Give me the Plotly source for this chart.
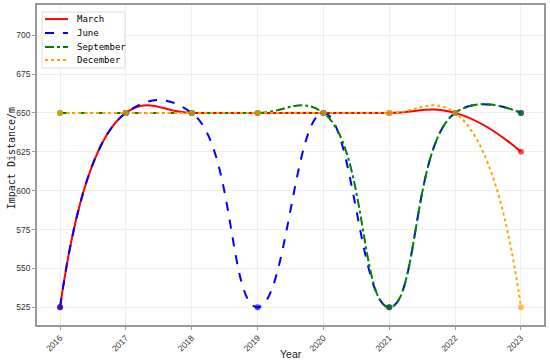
import plotly.graph_objects as go

years = [2016, 2017, 2018, 2019, 2020, 2021, 2022, 2023]
march = [525, 650, 650, 650, 650, 650, 650, 625]
june = [525, 650, 650, 525, 650, 525, 650, 650]
september = [650, 650, 650, 650, 650, 525, 650, 650]
december = [650, 650, 650, 650, 650, 650, 650, 525]

series = [
    ("March", march, "red", "solid"),
    ("June", june, "blue", "dash"),
    ("September", september, "green", "dashdot"),
    ("December", december, "orange", "dot"),
]

fig = go.Figure()
for name, vals, color, dash in series:
    fig.add_trace(go.Scatter(
        x=years, y=vals, name=name, mode="lines", showlegend=False,
        line=dict(color=color, width=2, dash=dash, shape="spline", smoothing=1.3),
    ))
for name, vals, color, dash in series:
    fig.add_trace(go.Scatter(
        x=years, y=vals, mode="markers", showlegend=False,
        marker=dict(color=color, size=6, opacity=0.7),
    ))

mono = "DejaVu Sans Mono"

# custom compact legend (paper coordinates)
shapes = [dict(type="rect", xref="paper", yref="paper", x0=0.0099, x1=0.1736,
               y0=0.803, y1=0.978, line=dict(color="#dddddd", width=1),
               fillcolor="rgba(255,255,255,0.9)", layer="above")]
annotations = []
row_y = [0.956, 0.9125, 0.869, 0.828]
for (name, vals, color, dash), ry in zip(series, row_y):
    shapes.append(dict(type="line", xref="paper", yref="paper", x0=0.0158, x1=0.0611,
                       y0=ry, y1=ry, line=dict(color=color, width=2, dash=dash), layer="above"))
    annotations.append(dict(text=name, xref="paper", yref="paper", x=0.075, y=ry,
                            xanchor="left", yanchor="middle", showarrow=False,
                            font=dict(family=mono, size=9, color="black")))

annotations.append(dict(text="Year", xref="paper", yref="paper", x=0.5, y=-0.09,
                        xanchor="center", yanchor="middle", showarrow=False,
                        font=dict(family="Liberation Sans", size=10.5, color="#222")))
annotations.append(dict(text="Impact Distance/m", xref="paper", yref="paper", x=-0.05, y=0.52,
                        xanchor="center", yanchor="middle", showarrow=False, textangle=-90,
                        font=dict(family=mono, size=10, color="#222")))

fig.update_layout(
    width=550, height=363,
    margin=dict(l=37, r=6, t=5, b=38),
    plot_bgcolor="white", paper_bgcolor="white",
    font=dict(family="Liberation Sans", size=8.5, color="#333"),
    showlegend=False,
    shapes=shapes, annotations=annotations,
    xaxis=dict(
        range=[2015.65, 2023.35], tickvals=years, ticktext=[str(y) for y in years],
        tickangle=-45, showgrid=True, gridcolor="#eeeeee", automargin=False,
        showline=True, linecolor="#999", linewidth=1.5, mirror=True,
        ticks="outside", ticklen=3, tickcolor="#999",
        zeroline=False,
    ),
    yaxis=dict(
        range=[513.6, 719.4], tickvals=[525, 550, 575, 600, 625, 650, 675, 700],
        showgrid=True, gridcolor="#eeeeee", automargin=False,
        showline=True, linecolor="#999", linewidth=1.5, mirror=True,
        ticks="outside", ticklen=3, tickcolor="#999",
        zeroline=False,
    ),
)

fig.write_html("out.html", config={"displayModeBar": False},
               post_script="document.body.style.margin='0';")
